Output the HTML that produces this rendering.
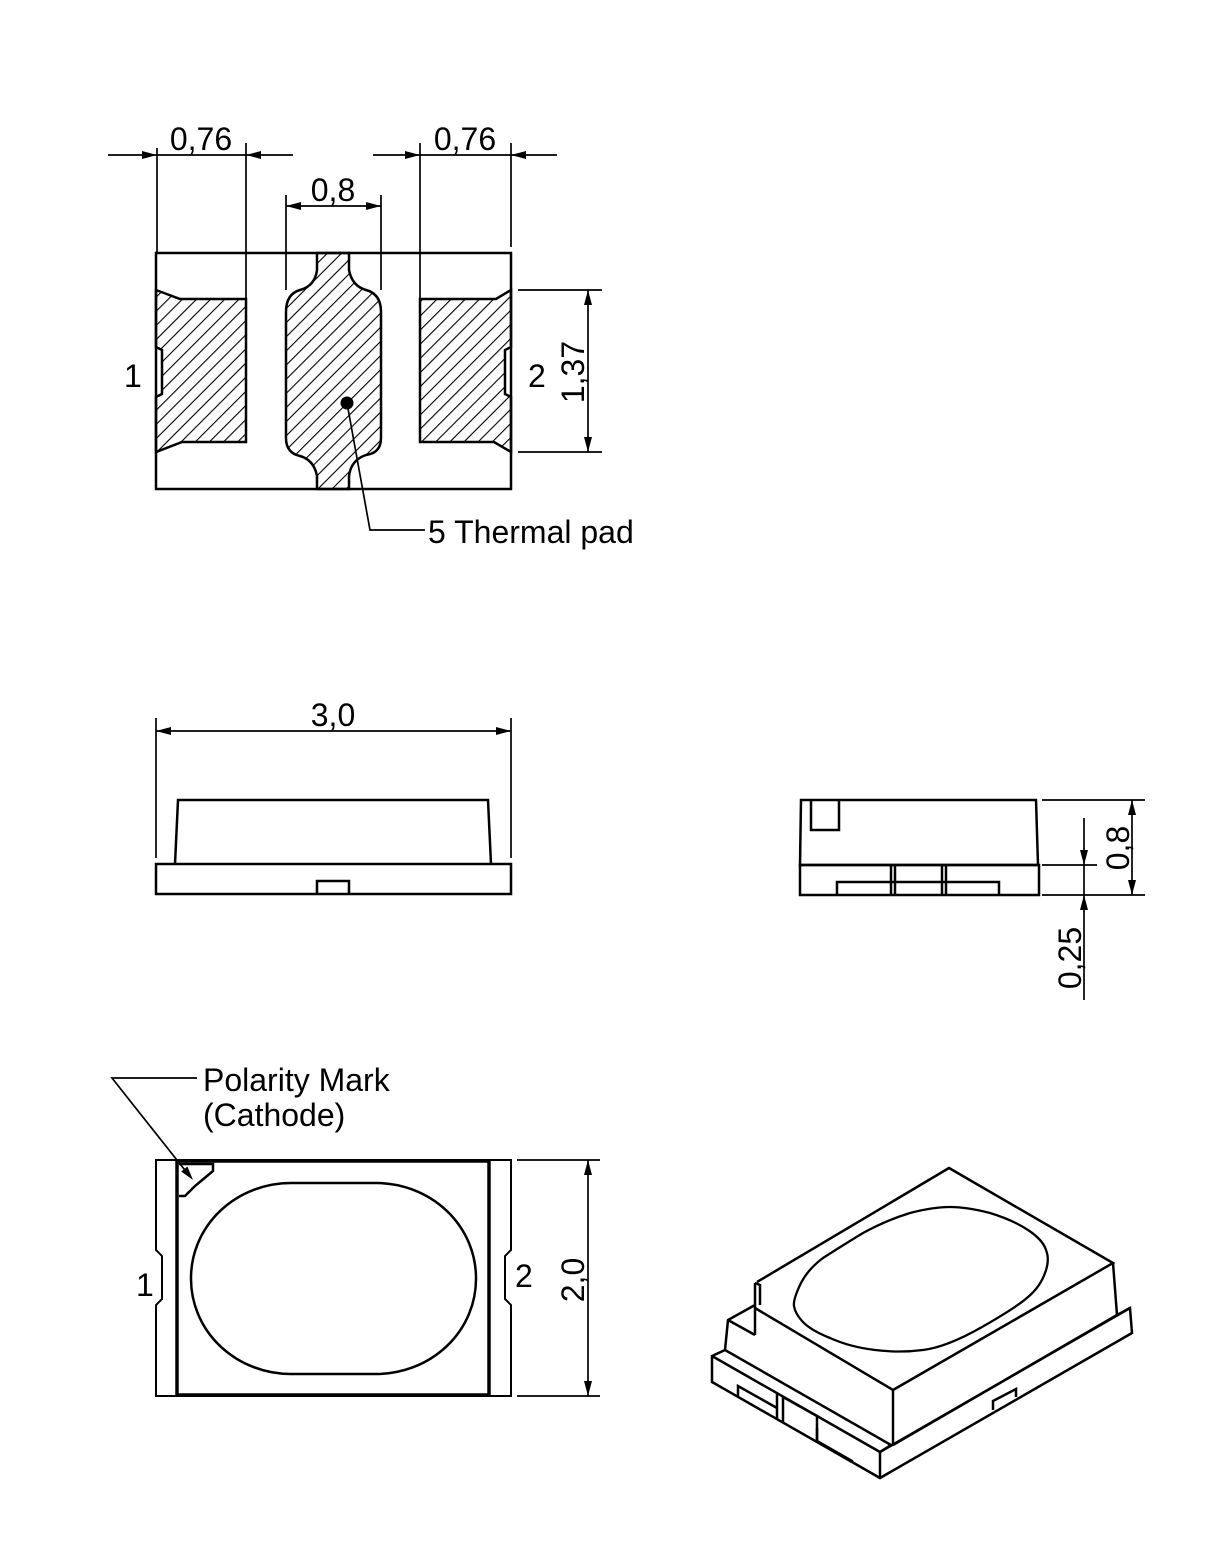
<!DOCTYPE html>
<html><head><meta charset="utf-8"><style>
html,body{margin:0;padding:0;background:#fff;}
svg{display:block;}
text{font-family:"Liberation Sans",Arial,sans-serif;font-size:32px;fill:#000;}
</style></head><body>
<svg width="1229" height="1558" viewBox="0 0 1229 1558" xmlns="http://www.w3.org/2000/svg">
<defs>
<pattern id="h" patternUnits="userSpaceOnUse" width="10" height="10" patternTransform="rotate(45)">
<line x1="0" y1="0" x2="0" y2="10" stroke="#000" stroke-width="2.2"/>
</pattern>
</defs>
<g fill="none" stroke="#000" stroke-width="2.5" stroke-linejoin="miter">
<rect x="156" y="253" width="355" height="236"/>
<path d="M156,290 L180,299 L246,299 L246,442 L182,442 L156,452 L156,397 L162,394 L162,350 L156,347 Z" fill="url(#h)"/>
<path d="M511,290 L496,299 L420,299 L420,442 L494,442 L511,452 L511,397 L505,394 L505,350 L511,347 Z" fill="url(#h)"/>
<path d="M317,253 L349,253 L349,270 Q352,286 366,290 Q381,294 381,312 L381,438 Q381,453 366,455 Q351,460 349,476 L349,489 L317,489 L317,476 Q314,460 300,456 Q286,453 286,438 L286,312 Q286,294 300,290 Q315,286 317,270 Z" fill="url(#h)"/>
</g>
<circle cx="347" cy="403" r="6.5" fill="#000"/>
<g fill="none" stroke="#000" stroke-width="1.7">
<polyline points="347,403 370,530 425,530"/>
<line x1="157" y1="148" x2="157" y2="253"/><line x1="246" y1="143" x2="246" y2="299"/>
<line x1="420" y1="143" x2="420" y2="299"/><line x1="511" y1="143" x2="511" y2="247"/>
<line x1="286" y1="195" x2="286" y2="290"/><line x1="381" y1="195" x2="381" y2="290"/>
<line x1="108" y1="155" x2="293" y2="155"/><line x1="373" y1="155" x2="557" y2="155"/>
<line x1="286" y1="206" x2="381" y2="206"/>
<line x1="518" y1="290" x2="602" y2="290"/><line x1="518" y1="452" x2="602" y2="452"/>
<line x1="588" y1="290" x2="588" y2="452"/>
<line x1="156" y1="731" x2="511" y2="731"/>
<line x1="156" y1="718" x2="156" y2="858"/><line x1="511" y1="718" x2="511" y2="858"/>
<line x1="1042" y1="800" x2="1145" y2="800"/><line x1="1042" y1="865" x2="1097" y2="865"/>
<line x1="1042" y1="895" x2="1145" y2="895"/>
<line x1="1132" y1="800" x2="1132" y2="895"/><line x1="1084" y1="818" x2="1084" y2="1000"/>
<line x1="517" y1="1160" x2="600" y2="1160"/><line x1="517" y1="1396" x2="600" y2="1396"/>
<line x1="588" y1="1160" x2="588" y2="1396"/>
<polyline points="197,1078 112,1078 188,1174"/>
</g>
<g fill="#000">
<polygon points="157,155 142,151 142,159"/><polygon points="246,155 261,151 261,159"/>
<polygon points="420,155 405,151 405,159"/><polygon points="511,155 526,151 526,159"/>
<polygon points="286,206 301,202 301,210"/><polygon points="381,206 366,202 366,210"/>
<polygon points="588,290 584,305 592,305"/><polygon points="588,452 584,437 592,437"/>
<polygon points="156,731 171,727 171,735"/><polygon points="511,731 496,727 496,735"/>
<polygon points="1132,800 1128,815 1136,815"/><polygon points="1132,895 1128,880 1136,880"/>
<polygon points="1084,865 1080,850 1088,850"/><polygon points="1084,895 1080,910 1088,910"/>
<polygon points="588,1160 584,1175 592,1175"/><polygon points="588,1396 584,1381 592,1381"/>
<polygon points="193,1180 181.2,1171.5 187.4,1166.5"/>
</g>
<g fill="none" stroke="#000" stroke-width="2.5">
<polyline points="175,864 178,800 488,800 491,864"/>
<rect x="156" y="864" width="355" height="30"/>
<polyline points="317,894 317,881 349,881 349,894"/>
<polygon points="801,800 1036,800 1038,865 800,865"/>
<polyline points="811,800 811,830 839,830 839,800"/>
<rect x="800" y="865" width="239" height="30"/>
<polyline points="837,895 837,882 999,882 999,895"/>
<line x1="891" y1="865" x2="891" y2="895"/><line x1="895" y1="865" x2="895" y2="895"/>
<line x1="942" y1="865" x2="942" y2="895"/><line x1="946" y1="865" x2="946" y2="895"/>
<path d="M156,1160 L511,1160 L511,1250 L505,1256 L505,1299 L511,1305 L511,1396 L156,1396 L156,1305 L162,1299 L162,1256 L156,1250 Z" stroke-width="2"/>
<rect x="177" y="1161" width="312" height="234" stroke-width="3.5"/>
<polyline points="179,1164 213,1164 213,1171 195,1186 185,1196 179,1196"/>
<rect x="191" y="1183" width="285" height="191" rx="100" ry="95"/>
<polyline points="757,1282 949,1168 1113,1263 893,1390 755,1308"/>
<polyline points="755,1283 760,1285 760,1305"/>
<line x1="755" y1="1283" x2="755" y2="1335"/>
<polyline points="755,1305 728,1320 725,1350 712,1356 712,1382 880,1478 1132,1333 1130,1308 1117,1315"/>
<line x1="728" y1="1320" x2="755" y2="1335"/>
<line x1="1113" y1="1263" x2="1117" y2="1315"/>
<line x1="893" y1="1390" x2="893" y2="1445"/>
<line x1="725" y1="1350" x2="891" y2="1445"/>
<line x1="893" y1="1445" x2="1117" y2="1315"/>
<polyline points="712,1356 880,1452 1130,1308"/>
<line x1="880" y1="1452" x2="880" y2="1478"/>
<line x1="880" y1="1452" x2="891" y2="1445"/>
<polyline points="738,1397 738,1386 777,1408"/>
<line x1="777" y1="1393" x2="777" y2="1419"/><line x1="783" y1="1396" x2="783" y2="1422"/>
<polyline points="783,1397 817,1416 817,1441 852,1461 852,1463"/>
<line x1="817" y1="1428" x2="817" y2="1441"/>
<polyline points="993,1410 993,1401 1016,1389 1016,1397"/>
<path d="M800,1285 Q807,1270 823,1258 Q840,1247 863,1233 Q887,1220 910,1213 Q933,1207 950,1207 Q967,1207 990,1213 Q1013,1220 1028,1230 Q1043,1240 1046,1250 Q1050,1260 1045,1273 Q1040,1287 1028,1297 Q1017,1307 982,1327 Q947,1347 923,1350 Q900,1353 875,1350 Q850,1347 830,1338 Q810,1330 802,1321 Q795,1313 794,1306 Q793,1300 800,1285 Z" stroke-width="2.3"/>
</g>
<text x="201" y="150" text-anchor="middle">0,76</text>
<text x="465" y="150" text-anchor="middle">0,76</text>
<text x="333" y="201" text-anchor="middle">0,8</text>
<text x="124" y="387">1</text>
<text x="528" y="387">2</text>
<text transform="translate(584,372) rotate(-90)" text-anchor="middle">1,37</text>
<text x="428" y="543">5 Thermal pad</text>
<text x="333" y="726" text-anchor="middle">3,0</text>
<text transform="translate(1129,848) rotate(-90)" text-anchor="middle">0,8</text>
<text transform="translate(1081,958) rotate(-90)" text-anchor="middle">0,25</text>
<text x="203" y="1091">Polarity Mark</text>
<text x="203" y="1126">(Cathode)</text>
<text x="136" y="1296">1</text>
<text x="515" y="1287">2</text>
<text transform="translate(584,1280) rotate(-90)" text-anchor="middle">2,0</text>
</svg>
</body></html>
